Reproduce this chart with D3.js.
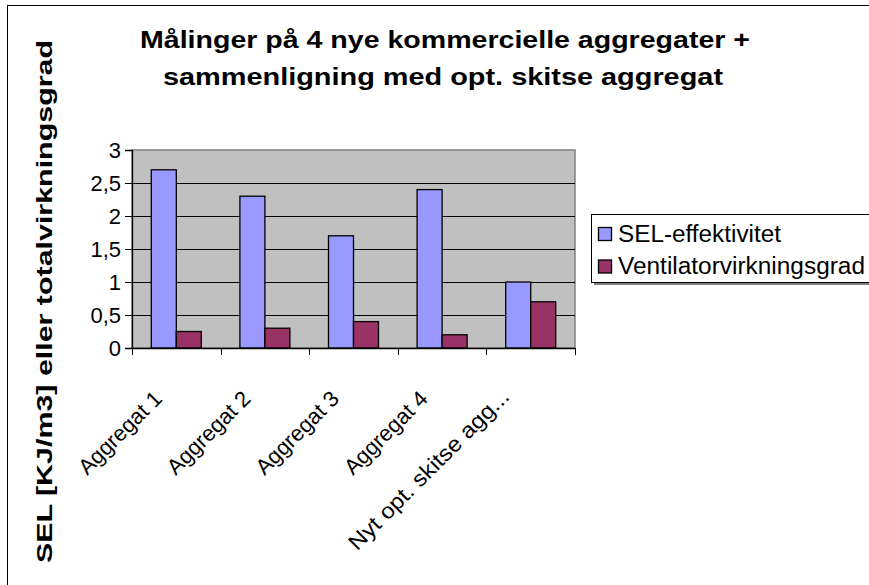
<!DOCTYPE html>
<html><head><meta charset="utf-8">
<script src="https://cdn.jsdelivr.net/npm/d3@7"></script>
<style>body{margin:0;background:#fff;} svg{display:block;font-family:"Liberation Sans",Arial,sans-serif;}</style>
</head><body>
<svg id="c" width="869" height="585"></svg>
<script>
const categories = ["Aggregat 1","Aggregat 2","Aggregat 3","Aggregat 4","Nyt opt. skitse agg..."];
const seriesNames = ["SEL-effektivitet","Ventilatorvirkningsgrad"];
const selValues = [2.7, 2.3, 1.7, 2.4, 1.0];
const ventValues = [0.25, 0.3, 0.4, 0.2, 0.7];
const yTicks = [0, 0.5, 1, 1.5, 2, 2.5, 3];
const colors = ["#9999ff", "#993366"];
const titleLines = ["Målinger på 4 nye kommercielle aggregater +", "sammenligning med opt. skitse aggregat"];
const yTitle = "SEL [KJ/m3] eller totalvirkningsgrad";

const svg = d3.select("#c");
svg.append("rect").attr("x",7.5).attr("y",5.5).attr("width",900).attr("height",700)
  .attr("fill","#fff").attr("stroke","#000").attr("stroke-width",1);

const plot = {l:132, r:575, t:150, b:348};
const x = d3.scaleBand().domain(categories).range([plot.l, plot.r]).paddingInner(0).paddingOuter(0);
const y = d3.scaleLinear().domain([0,3]).range([plot.b, plot.t]);
const barW = 25;

svg.append("rect").attr("x",plot.l).attr("y",plot.t).attr("width",plot.r-plot.l).attr("height",plot.b-plot.t)
  .attr("fill","#c0c0c0").attr("stroke","#808080").attr("stroke-width",1.5);

svg.append("g").selectAll("line").data(yTicks.filter(d=>d>0 && d<3)).join("line")
  .attr("x1",plot.l).attr("x2",plot.r).attr("y1",d=>Math.round(y(d))+0.5).attr("y2",d=>Math.round(y(d))+0.5)
  .attr("stroke","#000").attr("stroke-width",1);

const data = categories.map((c,i)=>({c, vals:[selValues[i], ventValues[i]]}));
const g = svg.append("g");
data.forEach(d=>{
  const x0 = x(d.c) + (x.bandwidth() - 2*barW)/2;
  d.vals.forEach((v,j)=>{
    g.append("rect").attr("x",x0 + j*barW).attr("y",y(v)).attr("width",barW).attr("height",y(0)-y(v))
      .attr("fill",colors[j]).attr("stroke","#000").attr("stroke-width",1.3);
  });
});

const yAxis = d3.axisLeft(y).tickValues(yTicks).tickSize(7).tickPadding(4)
  .tickFormat(d=>String(d).replace(".",","));
const ya = svg.append("g").attr("transform",`translate(${plot.l},0)`).call(yAxis);
ya.select(".domain").attr("stroke","#000").attr("stroke-width",1.3);
ya.selectAll(".tick line").attr("stroke","#000");
ya.selectAll("text").attr("font-size",22).attr("fill","#000").attr("font-family","Liberation Sans, Arial, sans-serif");

const xAxis = d3.axisBottom(x).tickSize(0).tickFormat("");
const xa = svg.append("g").attr("transform",`translate(0,${plot.b})`).call(xAxis);
xa.select(".domain").attr("stroke","#000").attr("stroke-width",1.3);
xa.selectAll(".tick").remove();
svg.append("g").selectAll("line").data(categories.map(c=>x(c)).concat([plot.r])).join("line")
  .attr("x1",d=>Math.round(d)+0.5).attr("x2",d=>Math.round(d)+0.5).attr("y1",plot.b).attr("y2",plot.b+7)
  .attr("stroke","#000");

const xl = svg.append("g").selectAll("text").data(categories).join("text")
  .attr("transform",(d,i)=>`translate(${x(d)+x.bandwidth()/2 - (i===4?20:13)},${plot.b + (i===4?50:52)}) rotate(-45)`)
  .attr("text-anchor","end").attr("font-size",22).attr("fill","#000")
  .text(d=>d);
xl.filter((d,i)=>i===4).attr("textLength",217).attr("lengthAdjust","spacingAndGlyphs");

svg.append("text").attr("text-anchor","middle")
  .attr("font-size",23).attr("font-weight","bold")
  .selectAll("tspan").data(titleLines).join("tspan")
  .attr("x",(d,i)=>i===0?445:443).attr("y",(d,i)=>48+i*37)
  .attr("textLength",(d,i)=>i===0?610:560).attr("lengthAdjust","spacingAndGlyphs").text(d=>d);

svg.append("text").attr("transform","translate(52,301.5) rotate(-90)").attr("text-anchor","middle")
  .attr("font-size",22).attr("font-weight","bold")
  .attr("textLength",523).attr("lengthAdjust","spacingAndGlyphs").text(yTitle);

const lg = svg.append("g");
lg.append("rect").attr("x",594).attr("y",217).attr("width",300).attr("height",68).attr("fill","#808080");
lg.append("rect").attr("x",591.5).attr("y",214.5).attr("width",300).attr("height",68).attr("fill","#fff").attr("stroke","#000");
seriesNames.forEach((s,i)=>{
  const base = 241.5 + i*32.5;
  lg.append("rect").attr("x",598.5).attr("y",base-14).attr("width",13).attr("height",13)
    .attr("fill",colors[i]).attr("stroke","#000").attr("stroke-width",1.3);
  lg.append("text").attr("x",618).attr("y",base).attr("font-size",23)
    .attr("textLength",i===0?163:247).attr("lengthAdjust","spacingAndGlyphs").text(s);
});
</script>
</body></html>
